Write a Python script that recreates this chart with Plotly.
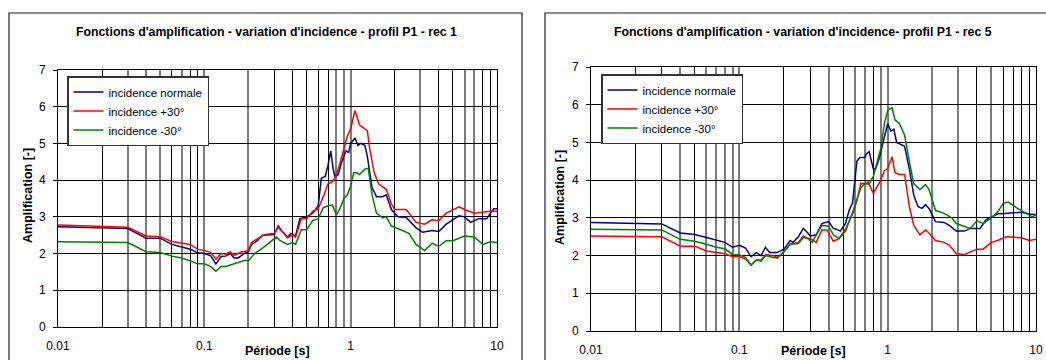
import plotly.graph_objects as go

# ---------------- data : rec 1 ----------------
rec1_normale_T = [0.01, 0.03, 0.04, 0.05, 0.06, 0.07, 0.08, 0.09, 0.1, 0.11, 0.12, 0.13, 0.14, 0.15, 0.16, 0.17,
                  0.19, 0.2, 0.21, 0.23, 0.25, 0.3, 0.32, 0.34, 0.37, 0.39, 0.42, 0.45, 0.5, 0.55, 0.6, 0.63,
                  0.67, 0.7, 0.73, 0.76, 0.78, 0.82, 0.87, 0.93, 0.97, 1.0, 1.07, 1.12, 1.17, 1.25, 1.3, 1.4,
                  1.5, 1.65, 1.75, 1.9, 2.1, 2.4, 2.8, 3.1, 3.6, 4.0, 4.5, 5.5, 6.0, 6.6, 7.5, 8.5, 9.5, 10]
rec1_normale_A = [2.73, 2.68, 2.42, 2.42, 2.25, 2.18, 2.12, 2.02, 2.0, 1.95, 1.72, 1.92, 1.93, 2.0, 1.88, 1.88,
                  2.02, 2.05, 2.25, 2.35, 2.5, 2.52, 2.75, 2.6, 2.45, 2.55, 2.48, 2.95, 3.0, 3.1, 3.3, 4.05,
                  4.1, 4.4, 4.8, 4.3, 4.1, 4.15, 4.5, 4.8, 4.75, 5.0, 5.15, 4.95, 5.0, 4.95, 4.65, 3.8,
                  3.55, 3.55, 3.6, 3.2, 3.0, 2.98, 2.7, 2.58, 2.63, 2.6, 2.8, 3.03, 3.0, 2.85, 2.95, 2.95, 3.22, 3.22]

rec1_plus30_T = [0.01, 0.03, 0.04, 0.05, 0.06, 0.08, 0.09, 0.1, 0.11, 0.12, 0.13, 0.14, 0.15, 0.16, 0.18, 0.2,
                 0.21, 0.24, 0.26, 0.3, 0.32, 0.35, 0.37, 0.4, 0.42, 0.46, 0.5, 0.55, 0.6, 0.65, 0.7, 0.75,
                 0.8, 0.85, 0.9, 0.95, 1.0, 1.07, 1.15, 1.2, 1.3, 1.35, 1.45, 1.55, 1.7, 1.75, 1.9, 2.0,
                 2.4, 2.8, 3.2, 3.6, 4.0, 4.5, 5.5, 6.0, 7.0, 9.0, 10]
rec1_plus30_A = [2.78, 2.72, 2.48, 2.46, 2.33, 2.25, 2.12, 2.07, 2.04, 1.85, 2.0, 1.98, 2.05, 1.95, 2.05, 2.08,
                 2.3, 2.45, 2.52, 2.55, 2.72, 2.55, 2.43, 2.5, 2.45, 2.95, 2.95, 3.15, 3.22, 3.55, 3.9, 3.95,
                 4.15, 4.5, 4.9, 5.2, 5.4, 5.9, 5.5, 5.45, 5.35, 4.85, 4.2, 3.9, 3.8, 3.75, 3.35, 3.2,
                 3.2, 2.85, 2.8, 2.92, 2.9, 3.1, 3.27, 3.2, 3.1, 3.15, 3.15]

rec1_minus30_T = [0.01, 0.03, 0.04, 0.05, 0.06, 0.07, 0.08, 0.09, 0.1, 0.11, 0.12, 0.13, 0.14, 0.16, 0.18, 0.19,
                  0.2, 0.22, 0.25, 0.28, 0.31, 0.33, 0.37, 0.4, 0.42, 0.46, 0.5, 0.55, 0.6, 0.65, 0.7, 0.75,
                  0.8, 0.85, 0.9, 0.95, 1.0, 1.05, 1.1, 1.15, 1.25, 1.32, 1.4, 1.5, 1.65, 1.75, 1.9, 2.2,
                  2.5, 2.8, 3.2, 3.6, 4.0, 4.5, 5.0, 6.0, 7.0, 8.0, 9.0, 10]
rec1_minus30_A = [2.32, 2.3, 2.05, 2.03, 1.93, 1.88, 1.8, 1.72, 1.72, 1.65, 1.52, 1.65, 1.65, 1.73, 1.78, 1.82,
                  1.8, 2.0, 2.15, 2.3, 2.45, 2.35, 2.25, 2.3, 2.25, 2.65, 2.65, 2.9, 2.95, 3.25, 3.3, 3.32,
                  3.05, 3.25, 3.5, 3.6, 3.85, 4.2, 4.2, 4.15, 4.3, 4.32, 3.6, 3.1, 2.97, 3.0, 2.75, 2.65,
                  2.55, 2.25, 2.08, 2.28, 2.2, 2.35, 2.35, 2.48, 2.45, 2.25, 2.32, 2.3]

# ---------------- data : rec 5 ----------------
rec5_normale_T = [0.01, 0.03, 0.04, 0.05, 0.06, 0.07, 0.08, 0.09, 0.1, 0.11, 0.12, 0.13, 0.14, 0.15, 0.16, 0.18,
                  0.2, 0.22, 0.23, 0.25, 0.27, 0.29, 0.3, 0.33, 0.36, 0.4, 0.43, 0.45, 0.48, 0.52, 0.55, 0.58,
                  0.62, 0.65, 0.7, 0.72, 0.75, 0.8, 0.83, 0.88, 0.93, 0.97, 1.0, 1.05, 1.1, 1.15, 1.3, 1.4,
                  1.5, 1.6, 1.7, 1.8, 1.9, 2.1, 2.4, 2.6, 2.9, 3.3, 3.6, 4.2, 4.6, 5.5, 7.0, 8.0, 9.0, 10]
rec5_normale_A = [2.88, 2.84, 2.6, 2.56, 2.48, 2.4, 2.35, 2.22, 2.27, 2.2, 1.97, 2.08, 2.0, 2.22, 2.08, 2.08,
                  2.17, 2.4, 2.35, 2.5, 2.72, 2.6, 2.52, 2.55, 2.85, 2.9, 2.72, 2.7, 2.65, 2.85, 3.2, 3.4,
                  4.5, 4.6, 4.6, 4.7, 4.75, 4.3, 4.3, 4.6, 5.0, 5.3, 5.5, 5.3, 5.35, 5.0, 4.9, 4.3,
                  3.6, 3.3, 3.25, 3.35, 3.25, 2.9, 2.88, 2.8, 2.65, 2.65, 2.72, 2.72, 2.95, 3.1, 3.12, 3.15, 3.1, 3.08]

rec5_plus30_T = [0.01, 0.03, 0.04, 0.05, 0.06, 0.07, 0.08, 0.09, 0.1, 0.11, 0.12, 0.13, 0.14, 0.15, 0.17, 0.18,
                 0.2, 0.22, 0.25, 0.27, 0.29, 0.3, 0.33, 0.36, 0.39, 0.43, 0.47, 0.52, 0.58, 0.62, 0.66, 0.7,
                 0.74, 0.8, 0.85, 0.9, 0.95, 1.0, 1.07, 1.12, 1.2, 1.3, 1.4, 1.5, 1.65, 1.8, 1.9, 2.1,
                 2.4, 2.6, 2.9, 3.3, 4.0, 4.4, 5.0, 5.5, 6.3, 7.0, 8.0, 9.0, 10]
rec5_plus30_A = [2.52, 2.5, 2.25, 2.25, 2.12, 2.08, 2.05, 1.97, 1.98, 1.9, 1.75, 1.88, 1.88, 2.02, 2.0, 1.95,
                 2.1, 2.3, 2.35, 2.52, 2.45, 2.45, 2.35, 2.68, 2.68, 2.38, 2.45, 2.7, 3.1, 3.45, 3.92, 3.9,
                 3.95, 3.65, 3.85, 4.0, 4.25, 4.3, 4.62, 4.2, 4.15, 4.15, 3.3, 2.8, 2.55, 2.68, 2.6, 2.4,
                 2.35, 2.28, 2.05, 2.03, 2.17, 2.17, 2.35, 2.4, 2.5, 2.48, 2.47, 2.4, 2.43]

rec5_minus30_T = [0.01, 0.03, 0.04, 0.05, 0.06, 0.07, 0.08, 0.09, 0.1, 0.11, 0.12, 0.13, 0.14, 0.15, 0.17, 0.18,
                  0.2, 0.22, 0.25, 0.27, 0.29, 0.31, 0.33, 0.36, 0.4, 0.43, 0.47, 0.52, 0.58, 0.62, 0.66, 0.7,
                  0.75, 0.8, 0.85, 0.9, 0.95, 1.0, 1.07, 1.12, 1.2, 1.3, 1.4, 1.5, 1.65, 1.8, 1.9, 2.1,
                  2.4, 2.7, 2.9, 3.3, 3.6, 4.0, 4.4, 5.0, 5.5, 6.0, 6.5, 7.5, 8.5, 9.5, 10]
rec5_minus30_A = [2.7, 2.68, 2.43, 2.38, 2.3, 2.22, 2.18, 2.03, 2.02, 1.95, 1.75, 1.88, 1.85, 2.0, 1.95, 1.93,
                  2.1, 2.3, 2.32, 2.48, 2.45, 2.35, 2.55, 2.8, 2.78, 2.55, 2.45, 2.65, 3.15, 3.5, 3.8, 3.9,
                  3.9, 4.1, 4.5, 4.85, 5.5, 5.85, 5.92, 5.6, 5.5, 5.2, 4.5, 3.9, 3.75, 3.88, 3.75, 3.2,
                  3.12, 3.0, 2.85, 2.78, 2.72, 2.92, 2.85, 3.0, 3.15, 3.38, 3.42, 3.25, 3.12, 3.02, 3.1]

series_names = ["incidence normale", "incidence +30°", "incidence -30°"]
series_colors = ["#000080", "#FF0000", "#008000"]

titles = ["Fonctions d'amplification - variation d'incidence - profil P1 - rec 1",
          "Fonctions d'amplification - variation d'incidence- profil P1 - rec 5"]
x_title = "Période [s]"
y_title = "Amplification [-]"

decade_vals = [0.01, 0.1, 1, 10]
decade_text = ["0.01", "0.1", "1", "10"]

# grid lines (the scanned chart renders some gray, some black)
left_gray = [0.03, 0.04, 0.05, 0.07, 0.2, 0.8, 0.9, 3, 6, 7]
left_black = [0.02, 0.06, 0.08, 0.09, 0.3, 0.4, 0.5, 0.6, 0.7, 2, 4, 5, 8, 9]
right_gray = [0.04, 0.06, 0.07, 0.08, 0.09, 0.4, 0.6, 0.7, 0.9, 2, 3, 5]
right_black = [0.02, 0.03, 0.05, 0.2, 0.3, 0.5, 0.8, 4, 6, 7, 8, 9]

FONT = "Arial, Liberation Sans, sans-serif"
W, H = 1046, 360

fig = go.Figure()

panels = [
    dict(xa="x", ya="y", legend="legend",
         data=[(rec1_normale_T, rec1_normale_A), (rec1_plus30_T, rec1_plus30_A), (rec1_minus30_T, rec1_minus30_A)]),
    dict(xa="x2", ya="y2", legend="legend2",
         data=[(rec5_normale_T, rec5_normale_A), (rec5_plus30_T, rec5_plus30_A), (rec5_minus30_T, rec5_minus30_A)]),
]

for p in panels:
    for (t, a), name, col in zip(p["data"], series_names, series_colors):
        fig.add_trace(go.Scatter(x=t, y=a, mode="lines", name=name, xaxis=p["xa"], yaxis=p["ya"],
                                 legend=p["legend"], line=dict(color=col, width=1.5), hoverinfo="skip"))

def px_x(v):
    return v / W

def px_y(v):
    return 1 - v / H

def xaxis_cfg(domain, gray, black, anchor):
    major = sorted(set(gray + decade_vals))
    text = [decade_text[decade_vals.index(v)] if v in decade_vals else "" for v in major]
    return dict(type="log", range=[-2, 1], domain=domain, anchor=anchor, automargin=False,
                tickmode="array", tickvals=major, ticktext=text,
                showgrid=True, gridcolor="#7c7c7c", gridwidth=1.6,
                minor=dict(tickmode="array", tickvals=black, showgrid=True, gridcolor="#000000", gridwidth=1),
                ticks="", ticklabelstandoff=8,
                showline=True, linecolor="#000000", linewidth=1, mirror=True,
                zeroline=False, tickfont=dict(family=FONT, size=12, color="#000"))

def yaxis_cfg(domain, anchor):
    return dict(range=[0, 7], domain=domain, anchor=anchor, dtick=1, tick0=0, automargin=False,
                showgrid=True, gridcolor="#000000", gridwidth=1,
                ticks="outside", ticklen=4, tickcolor="#000", ticklabelstandoff=5,
                showline=True, linecolor="#000000", linewidth=1, mirror=True,
                zeroline=False, tickfont=dict(family=FONT, size=12, color="#000"))

legend_common = dict(xanchor="left", yanchor="top", bgcolor="white", bordercolor="#333", borderwidth=1.5,
                     font=dict(family=FONT, size=11.5, color="#000"), tracegroupgap=0)

fig.update_layout(
    template="none",
    width=W, height=H,
    margin=dict(l=0, r=0, t=0, b=0, autoexpand=False),
    paper_bgcolor="white", plot_bgcolor="white",
    showlegend=True,
    xaxis=xaxis_cfg([px_x(58), px_x(497)], left_gray, left_black, "y"),
    yaxis=yaxis_cfg([px_y(327), px_y(70)], "x"),
    xaxis2=xaxis_cfg([px_x(591), px_x(1036)], right_gray, right_black, "y2"),
    yaxis2=yaxis_cfg([px_y(331), px_y(67)], "x2"),
    legend=dict(x=px_x(67), y=px_y(76), **legend_common),
    legend2=dict(x=px_x(601), y=px_y(74), **legend_common),
)

# chart-area frames
fig.add_shape(type="rect", xref="paper", yref="paper", x0=px_x(9), x1=px_x(522), y0=-0.2, y1=px_y(13),
              line=dict(color="#222", width=1.2), fillcolor="rgba(0,0,0,0)", layer="below")
fig.add_shape(type="rect", xref="paper", yref="paper", x0=px_x(545), x1=1.05, y0=-0.2, y1=px_y(13),
              line=dict(color="#222", width=1.2), fillcolor="rgba(0,0,0,0)", layer="below")

ann = []
for tx, cx, yc, xt, yx in [(titles[0], 266, 196, 28, 277), (titles[1], 803, 198, 560, 813)]:
    ann.append(dict(text="<b>" + tx + "</b>", x=px_x(cx), y=px_y(32), xref="paper", yref="paper",
                    showarrow=False, xanchor="center", yanchor="middle",
                    font=dict(family=FONT, size=12.3, color="#000")))
    ann.append(dict(text="<b>" + y_title + "</b>", x=px_x(xt), y=px_y(yc), xref="paper", yref="paper",
                    showarrow=False, textangle=-90, xanchor="center", yanchor="middle",
                    font=dict(family=FONT, size=12.5, color="#000")))
    ann.append(dict(text="<b>" + x_title + "</b>", x=px_x(yx), y=px_y(351), xref="paper", yref="paper",
                    showarrow=False, xanchor="center", yanchor="middle",
                    font=dict(family=FONT, size=12.5, color="#000")))
fig.update_layout(annotations=ann)

fig.write_html("out.html")
